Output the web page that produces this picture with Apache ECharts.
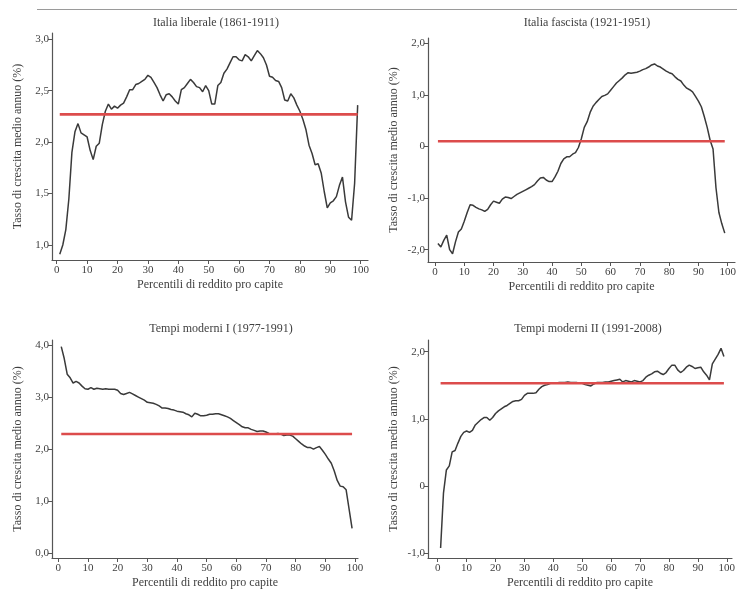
<!DOCTYPE html>
<html>
<head>
<meta charset="utf-8">
<script src="https://cdn.jsdelivr.net/npm/echarts@6/dist/echarts.min.js"></script>
<style>
html,body{margin:0;padding:0;background:#fff;}
#chart{width:737px;height:593px;}
</style>
</head>
<body>
<div id="chart"></div>
<script>
// ---------- DATA ----------
const percentiles = [1,2,3,4,5,6,7,8,9,10,11,12,13,14,15,16,17,18,19,20,21,22,23,24,25,26,27,28,29,30,31,32,33,34,35,36,37,38,39,40,41,42,43,44,45,46,47,48,49,50,51,52,53,54,55,56,57,58,59,60,61,62,63,64,65,66,67,68,69,70,71,72,73,74,75,76,77,78,79,80,81,82,83,84,85,86,87,88,89,90,91,92,93,94,95,96,97,98,99];

const titles = ["Italia liberale (1861-1911)", "Italia fascista (1921-1951)", "Tempi moderni I (1977-1991)", "Tempi moderni II (1991-2008)"];
const xAxisName = "Percentili di reddito pro capite";
const yAxisName = "Tasso di crescita medio annuo (%)";
const xTicks = [0,10,20,30,40,50,60,70,80,90,100];

const liberale = [0.91,1.00,1.15,1.45,1.90,2.10,2.18,2.09,2.07,2.05,1.92,1.83,1.96,1.99,2.17,2.30,2.37,2.32,2.35,2.33,2.36,2.38,2.44,2.51,2.51,2.56,2.57,2.59,2.61,2.65,2.63,2.58,2.53,2.46,2.40,2.46,2.47,2.44,2.40,2.37,2.51,2.53,2.57,2.61,2.58,2.54,2.53,2.49,2.55,2.50,2.37,2.37,2.55,2.58,2.67,2.71,2.77,2.83,2.83,2.80,2.79,2.85,2.83,2.79,2.84,2.89,2.86,2.82,2.75,2.64,2.63,2.60,2.59,2.53,2.41,2.40,2.47,2.43,2.36,2.30,2.22,2.12,1.97,1.89,1.78,1.79,1.70,1.52,1.36,1.41,1.43,1.47,1.58,1.66,1.42,1.27,1.24,1.60,2.36];
const fascista = [-1.88,-1.95,-1.82,-1.72,-2.00,-2.08,-1.85,-1.66,-1.60,-1.45,-1.28,-1.13,-1.14,-1.18,-1.21,-1.23,-1.26,-1.22,-1.13,-1.06,-1.08,-1.10,-1.02,-0.98,-0.99,-1.01,-0.97,-0.93,-0.90,-0.87,-0.84,-0.81,-0.78,-0.74,-0.67,-0.61,-0.60,-0.65,-0.68,-0.68,-0.59,-0.48,-0.33,-0.24,-0.20,-0.20,-0.15,-0.12,-0.02,0.15,0.37,0.48,0.66,0.78,0.85,0.91,0.97,0.99,1.02,1.09,1.16,1.23,1.28,1.33,1.39,1.43,1.42,1.43,1.44,1.46,1.49,1.51,1.54,1.58,1.60,1.56,1.54,1.50,1.46,1.43,1.41,1.35,1.30,1.27,1.19,1.13,1.10,1.06,0.97,0.88,0.77,0.58,0.37,0.12,-0.05,-0.80,-1.28,-1.50,-1.68];
const moderni1 = [3.97,3.74,3.44,3.37,3.27,3.30,3.27,3.21,3.16,3.15,3.18,3.15,3.17,3.16,3.15,3.16,3.15,3.15,3.15,3.13,3.07,3.05,3.07,3.09,3.06,3.03,3.00,2.97,2.94,2.90,2.89,2.88,2.86,2.83,2.79,2.79,2.78,2.76,2.75,2.73,2.72,2.71,2.68,2.66,2.62,2.69,2.67,2.64,2.64,2.65,2.67,2.67,2.68,2.68,2.66,2.64,2.62,2.59,2.55,2.51,2.47,2.43,2.41,2.41,2.38,2.36,2.34,2.35,2.35,2.33,2.30,2.29,2.29,2.30,2.29,2.26,2.27,2.27,2.25,2.20,2.15,2.10,2.06,2.03,2.03,2.00,2.03,2.05,1.98,1.90,1.81,1.73,1.58,1.40,1.29,1.28,1.22,0.85,0.48];
const moderni2 = [-0.92,-0.10,0.24,0.30,0.51,0.53,0.64,0.74,0.80,0.82,0.80,0.83,0.91,0.95,0.99,1.02,1.02,0.98,1.02,1.08,1.12,1.15,1.18,1.20,1.23,1.26,1.27,1.27,1.29,1.35,1.38,1.38,1.38,1.39,1.44,1.48,1.50,1.51,1.53,1.53,1.53,1.54,1.54,1.54,1.55,1.54,1.54,1.54,1.53,1.53,1.51,1.50,1.49,1.52,1.54,1.54,1.54,1.55,1.55,1.56,1.57,1.58,1.59,1.55,1.57,1.56,1.55,1.57,1.56,1.55,1.57,1.62,1.65,1.67,1.70,1.71,1.68,1.66,1.69,1.75,1.80,1.80,1.73,1.69,1.72,1.77,1.80,1.78,1.75,1.76,1.77,1.70,1.65,1.58,1.82,1.89,1.96,2.05,1.93];

// average growth (red horizontal reference lines) and their extent
const meanGrowth = [2.27, 0.10, 2.29, 1.53];
const meanSpan = [1, 99];

const yTickValues = [
  [1.0, 1.5, 2.0, 2.5, 3.0],
  [-2, -1, 0, 1, 2],
  [0, 1, 2, 3, 4],
  [-1, 0, 1, 2]
];
const yTickLabels = [
  ["1,0", "1,5", "2,0", "2,5", "3,0"],
  ["-2,0", "-1,0", "0", "1,0", "2,0"],
  ["0,0", "1,0", "2,0", "3,0", "4,0"],
  ["-1,0", "0", "1,0", "2,0"]
];

// ---------- LAYOUT ----------
const panels = [
  {grid:{left:52, top:33, width:316, height:227}, x:[-1.55,102.4], y:[0.854,3.061], titleX:211, titleY:12},
  {grid:{left:428, top:38, width:307, height:224}, x:[-2.39,102.5], y:[-2.24,2.103], titleX:582, titleY:12},
  {grid:{left:52, top:340, width:306, height:218}, x:[-2.12,101.0], y:[-0.09,4.096], titleX:216, titleY:318},
  {grid:{left:428, top:340, width:304, height:218}, x:[-3.36,101.8], y:[-1.07,2.174], titleX:583, titleY:318}
];
const seriesData = [liberale, fascista, moderni1, moderni2];

const FONT = '"Liberation Serif", "DejaVu Serif", serif';
const TXT = '#3f3f3f';
const AX = '#555555';

const grids = [], xAxes = [], yAxes = [], series = [], titleOpts = [];
panels.forEach((p, i) => {
  grids.push(Object.assign({outerBoundsMode:'none', containLabel:false}, p.grid));
  xAxes.push({
    type:'value', gridIndex:i, min:p.x[0], max:p.x[1],
    axisLine:{show:true, onZero:false, lineStyle:{color:AX, width:1.2}},
    axisTick:{show:true, length:4, customValues:xTicks, lineStyle:{color:AX}},
    axisLabel:{show:true, customValues:xTicks, margin:5, fontFamily:FONT, fontSize:11, color:TXT,
      formatter:v => String(Math.round(v))},
    splitLine:{show:false},
    name:xAxisName, nameLocation:'middle', nameGap:19,
    nameTextStyle:{fontFamily:FONT, fontSize:12, color:TXT}
  });
  const tv = yTickValues[i], tl = yTickLabels[i];
  yAxes.push({
    type:'value', gridIndex:i, min:p.y[0], max:p.y[1],
    axisLine:{show:true, onZero:false, lineStyle:{color:AX, width:1.2}},
    axisTick:{show:true, length:4, customValues:tv, lineStyle:{color:AX}},
    axisLabel:{show:true, customValues:tv, margin:3, fontFamily:FONT, fontSize:11, color:TXT,
      formatter:v => { const k = tv.findIndex(t => Math.abs(t - v) < 1e-6); return k >= 0 ? tl[k] : ''; }},
    splitLine:{show:false},
    name:yAxisName, nameLocation:'middle', nameGap:28, nameRotate:90,
    nameTextStyle:{fontFamily:FONT, fontSize:12, color:TXT}
  });
  series.push({
    type:'line', xAxisIndex:i, yAxisIndex:i, symbol:'none', silent:true,
    data: percentiles.map((x, k) => [x, seriesData[i][k]]),
    lineStyle:{color:'#3a3a3a', width:1.5}, z:3
  });
  series.push({
    type:'line', xAxisIndex:i, yAxisIndex:i, symbol:'none', silent:true,
    data: meanSpan.map(x => [x, meanGrowth[i]]),
    lineStyle:{color:'#dc4c4c', width:2.6}, z:4
  });
  titleOpts.push({
    text:titles[i], left:p.titleX, top:p.titleY, textAlign:'center',
    textStyle:{fontFamily:FONT, fontSize:12, fontWeight:'normal', color:TXT}
  });
});

const chart = echarts.init(document.getElementById('chart'), null, {renderer:'canvas'});
chart.setOption({
  backgroundColor:'#ffffff',
  animation:false,
  title:titleOpts,
  grid:grids, xAxis:xAxes, yAxis:yAxes, series:series,
  graphic:[{type:'line', shape:{x1:37, y1:9.5, x2:737, y2:9.5}, style:{stroke:'#9a9a9a', lineWidth:1}, silent:true}]
});
</script>
</body>
</html>
